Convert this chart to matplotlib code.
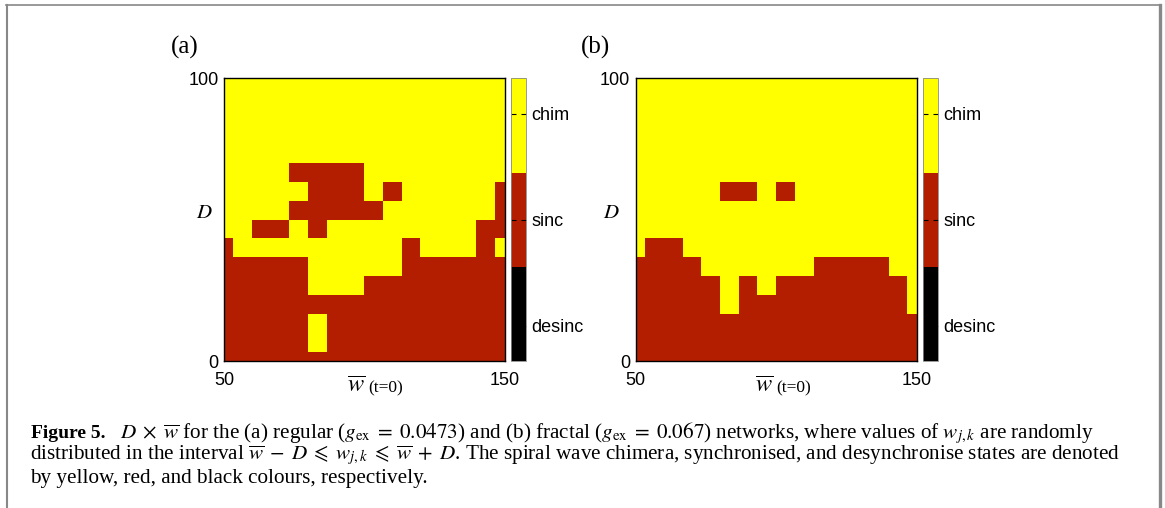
import numpy as np
import matplotlib
matplotlib.use('Agg')
import matplotlib.pyplot as plt
from matplotlib.colors import ListedColormap, Normalize
from matplotlib.cm import ScalarMappable
from matplotlib.lines import Line2D

W, H = 1165, 508

# ---------------- data ----------------
w_values = np.linspace(50, 150, 16)      # mean coupling w (t=0)
D_values = np.linspace(0, 100, 16)       # spread D
state_labels = ['desinc', 'sinc', 'chim']
state_ticks = [0.25, 1.0, 1.75]
state_colors = ['#000000', '#b31e00', '#ffff00']

# rows from D=0 (bottom) to D=100 (top); 0 = desinc, 1 = sinc, 2 = chim
regular = [
    [1, 1, 1, 1, 1, 1, 1, 1, 1, 1, 1, 1, 1, 1, 1, 1],
    [1, 1, 1, 1, 1, 2, 1, 1, 1, 1, 1, 1, 1, 1, 1, 1],
    [1, 1, 1, 1, 1, 2, 1, 1, 1, 1, 1, 1, 1, 1, 1, 1],
    [1, 1, 1, 1, 1, 1, 1, 1, 1, 1, 1, 1, 1, 1, 1, 1],
    [1, 1, 1, 1, 1, 2, 2, 2, 1, 1, 1, 1, 1, 1, 1, 1],
    [1, 1, 1, 1, 1, 2, 2, 2, 2, 2, 1, 1, 1, 1, 1, 1],
    [1, 2, 2, 2, 2, 2, 2, 2, 2, 2, 1, 2, 2, 2, 1, 2],
    [2, 2, 1, 1, 2, 1, 2, 2, 2, 2, 2, 2, 2, 2, 1, 1],
    [2, 2, 2, 2, 1, 1, 1, 1, 1, 2, 2, 2, 2, 2, 2, 1],
    [2, 2, 2, 2, 2, 1, 1, 1, 2, 1, 2, 2, 2, 2, 2, 1],
    [2, 2, 2, 2, 1, 1, 1, 1, 2, 2, 2, 2, 2, 2, 2, 2],
    [2, 2, 2, 2, 2, 2, 2, 2, 2, 2, 2, 2, 2, 2, 2, 2],
    [2, 2, 2, 2, 2, 2, 2, 2, 2, 2, 2, 2, 2, 2, 2, 2],
    [2, 2, 2, 2, 2, 2, 2, 2, 2, 2, 2, 2, 2, 2, 2, 2],
    [2, 2, 2, 2, 2, 2, 2, 2, 2, 2, 2, 2, 2, 2, 2, 2],
    [2, 2, 2, 2, 2, 2, 2, 2, 2, 2, 2, 2, 2, 2, 2, 2],
]

fractal = [
    [1, 1, 1, 1, 1, 1, 1, 1, 1, 1, 1, 1, 1, 1, 1, 1],
    [1, 1, 1, 1, 1, 1, 1, 1, 1, 1, 1, 1, 1, 1, 1, 1],
    [1, 1, 1, 1, 1, 1, 1, 1, 1, 1, 1, 1, 1, 1, 1, 1],
    [1, 1, 1, 1, 1, 2, 1, 1, 1, 1, 1, 1, 1, 1, 1, 2],
    [1, 1, 1, 1, 1, 2, 1, 2, 1, 1, 1, 1, 1, 1, 1, 2],
    [1, 1, 1, 1, 2, 2, 2, 2, 2, 2, 1, 1, 1, 1, 2, 2],
    [2, 1, 1, 2, 2, 2, 2, 2, 2, 2, 2, 2, 2, 2, 2, 2],
    [2, 2, 2, 2, 2, 2, 2, 2, 2, 2, 2, 2, 2, 2, 2, 2],
    [2, 2, 2, 2, 2, 2, 2, 2, 2, 2, 2, 2, 2, 2, 2, 2],
    [2, 2, 2, 2, 2, 1, 1, 2, 1, 2, 2, 2, 2, 2, 2, 2],
    [2, 2, 2, 2, 2, 2, 2, 2, 2, 2, 2, 2, 2, 2, 2, 2],
    [2, 2, 2, 2, 2, 2, 2, 2, 2, 2, 2, 2, 2, 2, 2, 2],
    [2, 2, 2, 2, 2, 2, 2, 2, 2, 2, 2, 2, 2, 2, 2, 2],
    [2, 2, 2, 2, 2, 2, 2, 2, 2, 2, 2, 2, 2, 2, 2, 2],
    [2, 2, 2, 2, 2, 2, 2, 2, 2, 2, 2, 2, 2, 2, 2, 2],
    [2, 2, 2, 2, 2, 2, 2, 2, 2, 2, 2, 2, 2, 2, 2, 2],
]

panel_names = ['(a)', '(b)']
x_ticks = [50, 150]
y_ticks = [0, 100]

caption_bold = 'Figure 5.'
caption_line1 = (r'$D\;\times\;\overline{w}$ for the (a) regular ($g_{\mathrm{ex}}\;=\;0.0473$) '
                 r'and (b) fractal ($g_{\mathrm{ex}}\;=\;0.067$) networks, where values of '
                 r'$w_{j,k}$ are randomly')
caption_line2 = (r'distributed in the interval $\overline{w}\;-\;D\;\leqslant\;w_{j,k}\;\leqslant\;'
                 r'\overline{w}\;+\;D$. The spiral wave chimera, synchronised, and desynchronise '
                 r'states are denoted')
caption_line3 = 'by yellow, red, and black colours, respectively.'

# ---------------- style ----------------
plt.rcParams['mathtext.fontset'] = 'stix'
plt.rcParams['font.family'] = ['Liberation Sans', 'DejaVu Sans']
SERIF = ['Liberation Serif', 'DejaVu Serif']

fig = plt.figure(figsize=(W / 100, H / 100), dpi=100)


def fx(x):
    return x / W


def fy(y):
    return 1 - y / H


cmap = ListedColormap(state_colors)
norm = Normalize(vmin=0, vmax=2)

panels = [
    dict(data=regular, left=224, right=504.5, cb=(511.3, 525.7),
         label_pos=(185, 47), ylab_x=204.5, xlab_x=347),
    dict(data=fractal, left=635.7, right=916.7, cb=(923.3, 937.7),
         label_pos=(596, 47), ylab_x=611, xlab_x=755),
]
top, bottom = 78.3, 361.0

for name, p in zip(panel_names, panels):
    ax = fig.add_axes([fx(p['left']), fy(bottom), fx(p['right'] - p['left']),
                       (bottom - top) / H])
    ax.pcolormesh(w_values, D_values, np.array(p['data']), cmap=cmap, norm=norm,
                  shading='nearest')
    ax.set_xlim(50, 150)
    ax.set_ylim(0, 100)
    ax.set_xticks(x_ticks)
    ax.set_yticks(y_ticks)
    ax.tick_params(axis='both', length=0, labelsize=13)
    ax.tick_params(axis='x', pad=8)
    ax.tick_params(axis='y', pad=4)
    for s in ax.spines.values():
        s.set_linewidth(1.0)
        s.set_color('black')

    cax = fig.add_axes([fx(p['cb'][0]), fy(bottom), fx(p['cb'][1] - p['cb'][0]),
                        (bottom - top) / H])
    cb = fig.colorbar(ScalarMappable(norm=norm, cmap=cmap), cax=cax, ticks=state_ticks)
    cb.ax.set_yticklabels(state_labels)
    cb.ax.tick_params(direction='in', left=True, right=True, length=3.5, width=0.8,
                      labelsize=13, pad=4)
    cb.outline.set_linewidth(0.6)
    cb.outline.set_edgecolor('#888888')

    fig.text(fx(p['label_pos'][0]), fy(p['label_pos'][1]), name, family=SERIF,
             fontsize=18, ha='center', va='center')
    fig.text(fx(p['ylab_x']), fy(213), r'$D$', fontsize=15, ha='center', va='center')
    fig.text(fx(p['xlab_x']), fy(392.5), r'$\overline{w}$', fontsize=17.5, ha='left',
             va='baseline')
    fig.text(fx(p['xlab_x'] + 21), fy(392.5), '(t=0)', family=SERIF, fontsize=12.5,
             ha='left', va='baseline')

# ---------------- caption ----------------
cap_size = 15.2
renderer = fig.canvas.get_renderer()
t_bold = fig.text(fx(31), fy(438), caption_bold, family=SERIF, fontweight='bold',
                  fontsize=14, va='baseline', ha='left')
bb = t_bold.get_window_extent(renderer)
fig.text(fx(bb.x1 + 14), fy(438), caption_line1, family=SERIF, fontsize=cap_size,
         va='baseline', ha='left')
fig.text(fx(30), fy(460.5), caption_line2, family=SERIF, fontsize=cap_size,
         va='baseline', ha='left')
fig.text(fx(30), fy(482.5), caption_line3, family=SERIF, fontsize=cap_size,
         va='baseline', ha='left')

# ---------------- page frame ----------------
frame = dict(color='#888888', transform=fig.transFigure)
fig.add_artist(Line2D([fx(6), fx(1160)], [fy(4.5), fy(4.5)], lw=1.2, **frame))
fig.add_artist(Line2D([fx(7), fx(7)], [fy(4.5), fy(508)], lw=1.5, **frame))
fig.add_artist(Line2D([fx(1160), fx(1160)], [fy(4.5), fy(508)], lw=2.4, **frame))

fig.savefig('out.png', dpi=100)
